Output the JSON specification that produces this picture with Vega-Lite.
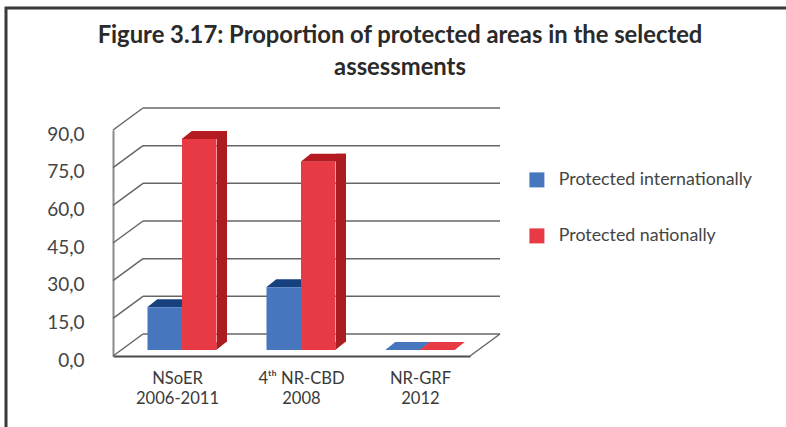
{
"$schema":"https://vega.github.io/schema/vega-lite/v6.json",
"width":800,"height":430,
"autosize":"none",
"padding":{"left":6,"top":8,"right":0,"bottom":0},
"background":"#ffffff",
"config":{"view":{"stroke":"#3a3a3a","strokeWidth":3,"fill":"#ffffff"}},
"title":{"text":["Figure 3.17: Proportion of protected areas in the selected","assessments"],"anchor":"start","frame":"group","align":"center","dx":394,"dy":0,"offset":-72,"font":"Lato","fontSize":23.8,"fontWeight":"bold","color":"#2a2a2a","lineHeight":32},
"datasets":{
"bars":[
{"assessment":"NSoER|2006-2011","series":"Protected internationally","value":17},
{"assessment":"NSoER|2006-2011","series":"Protected nationally","value":84},
{"assessment":"4ᵗʰ NR-CBD|2008","series":"Protected internationally","value":25},
{"assessment":"4ᵗʰ NR-CBD|2008","series":"Protected nationally","value":75},
{"assessment":"NR-GRF|2012","series":"Protected internationally","value":0},
{"assessment":"NR-GRF|2012","series":"Protected nationally","value":0}
],
"ticks":[{"tick":0},{"tick":15},{"tick":30},{"tick":45},{"tick":60},{"tick":75},{"tick":90}]
},
"data":{"name":"bars"},
"encoding":{
"x":{"field":"assessment","type":"nominal","scale":{"domain":["NSoER|2006-2011","4ᵗʰ NR-CBD|2008","NR-GRF|2012"],"range":[107,464],"paddingInner":0,"paddingOuter":0},
"axis":{"title":null,"offset":-82,"domain":true,"domainColor":"#4a4a4a","domainWidth":2,"ticks":false,"labelAngle":0,"labelPadding":22,"labelFont":"Lato","labelFontSize":16.6,"labelColor":"#3a3a3a","labelBaseline":"middle","labelLineHeight":20,"labelOffset":{"condition":{"test":"datum.index==0","value":5},"value":10},"labelExpr":"split(datum.label,'|')"}},
"y":{"type":"quantitative","scale":{"domain":[0,90],"range":[348,122]},
"axis":{"title":null,"offset":-107,"values":[0,15,30,45,60,75,90],"domain":true,"domainColor":"#8a8a8a","domainWidth":2,"ticks":false,"grid":false,"labelPadding":29,"labelOffset":4,"labelFont":"Lato","labelFontSize":19,"labelColor":"#444444","labelExpr":"replace(format(datum.value,'.1f'),'.',',')"}}
},
"layer":[
{"data":{"name":"ticks"},"mark":{"type":"rule","color":"#666666","strokeWidth":1.5,"x2Offset":30,"y2Offset":-22},
 "encoding":{"x":{"datum":"NSoER|2006-2011","bandPosition":0},"x2":{"datum":"NSoER|2006-2011","bandPosition":0},"y":{"field":"tick","type":"quantitative"},"y2":{"field":"tick"}}},
{"data":{"name":"ticks"},"mark":{"type":"rule","color":"#666666","strokeWidth":1.5,"xOffset":30,"x2Offset":30,"yOffset":-22,"y2Offset":-22},
 "encoding":{"x":{"datum":"NSoER|2006-2011","bandPosition":0},"x2":{"datum":"NR-GRF|2012","bandPosition":1},"y":{"field":"tick","type":"quantitative"}}},
{"data":{"values":[{"tick":0}]},"mark":{"type":"rule","color":"#666666","strokeWidth":1.5,"x2Offset":30,"y2Offset":-22},
 "encoding":{"x":{"datum":"NR-GRF|2012","bandPosition":1},"x2":{"datum":"NR-GRF|2012","bandPosition":1},"y":{"field":"tick","type":"quantitative"},"y2":{"field":"tick"}}},
{"transform":[{"filter":"datum.series=='Protected nationally' && datum.value>0"}],
 "mark":{"type":"bar","color":"#ab1c20","width":10,"xOffset":49.5,"yOffset":-14,"y2Offset":-14},
 "encoding":{"y":{"field":"value"}}},
{"transform":[{"filter":"datum.series=='Protected nationally' && datum.value>0"}],
 "mark":{"type":"point","filled":true,"opacity":1,"size":4,"strokeWidth":0,"color":"#ab1c20","shape":"M17 0 L27 0 L17 8 Z","yOffset":-14},
 "encoding":{"xOffset":{"field":"series","sort":null,"scale":{"domain":["Protected internationally","Protected nationally"],"range":[34.5,103.5]}},"y":{"datum":0}}},
{"transform":[{"filter":"datum.value>0"}],
 "mark":{"type":"point","filled":true,"opacity":1,"size":4,"strokeWidth":0,"shape":"M-17.5 0 L17.5 0 L27.5 -8 L-7.5 -8 Z","yOffset":-6},
 "encoding":{"xOffset":{"field":"series","sort":null,"scale":{"domain":["Protected internationally","Protected nationally"],"range":[34.5,103.5]}},"y":{"field":"value"},
  "color":{"field":"series","scale":{"domain":["Protected internationally","Protected nationally"],"range":["#17407f","#b41a20"]},"legend":null}}},
{"transform":[{"filter":"datum.value==0"}],
 "mark":{"type":"point","filled":true,"opacity":1,"size":4,"strokeWidth":0,"shape":"M-17.5 0 L17.5 0 L27.5 -8 L-7.5 -8 Z","yOffset":-6},
 "encoding":{"xOffset":{"field":"series","sort":null,"scale":{"domain":["Protected internationally","Protected nationally"],"range":[34.5,103.5]}},"y":{"field":"value"},
  "color":{"field":"series","scale":{"domain":["Protected internationally","Protected nationally"],"range":["#4677be","#e83a45"]},"legend":null}}},
{"transform":[{"filter":"datum.value>0"}],
 "mark":{"type":"bar","yOffset":-6,"y2Offset":-6},
 "encoding":{"xOffset":{"field":"series","sort":null,"scale":{"domain":["Protected internationally","Protected nationally"],"range":[34.5,103.5]}},"y":{"field":"value"},
  "color":{"field":"series","title":null,"scale":{"domain":["Protected internationally","Protected nationally"],"range":["#4677be","#e83a45"]},
   "legend":{"orient":"none","legendX":522,"legendY":163,"symbolType":"square","symbolSize":225,"symbolStrokeWidth":0,"rowPadding":37,"labelFont":"Lato","labelFontSize":17.8,"labelColor":"#444444","labelOffset":13,"labelLimit":260}}}}
],
"resolve":{"scale":{"color":"independent"}}
}
